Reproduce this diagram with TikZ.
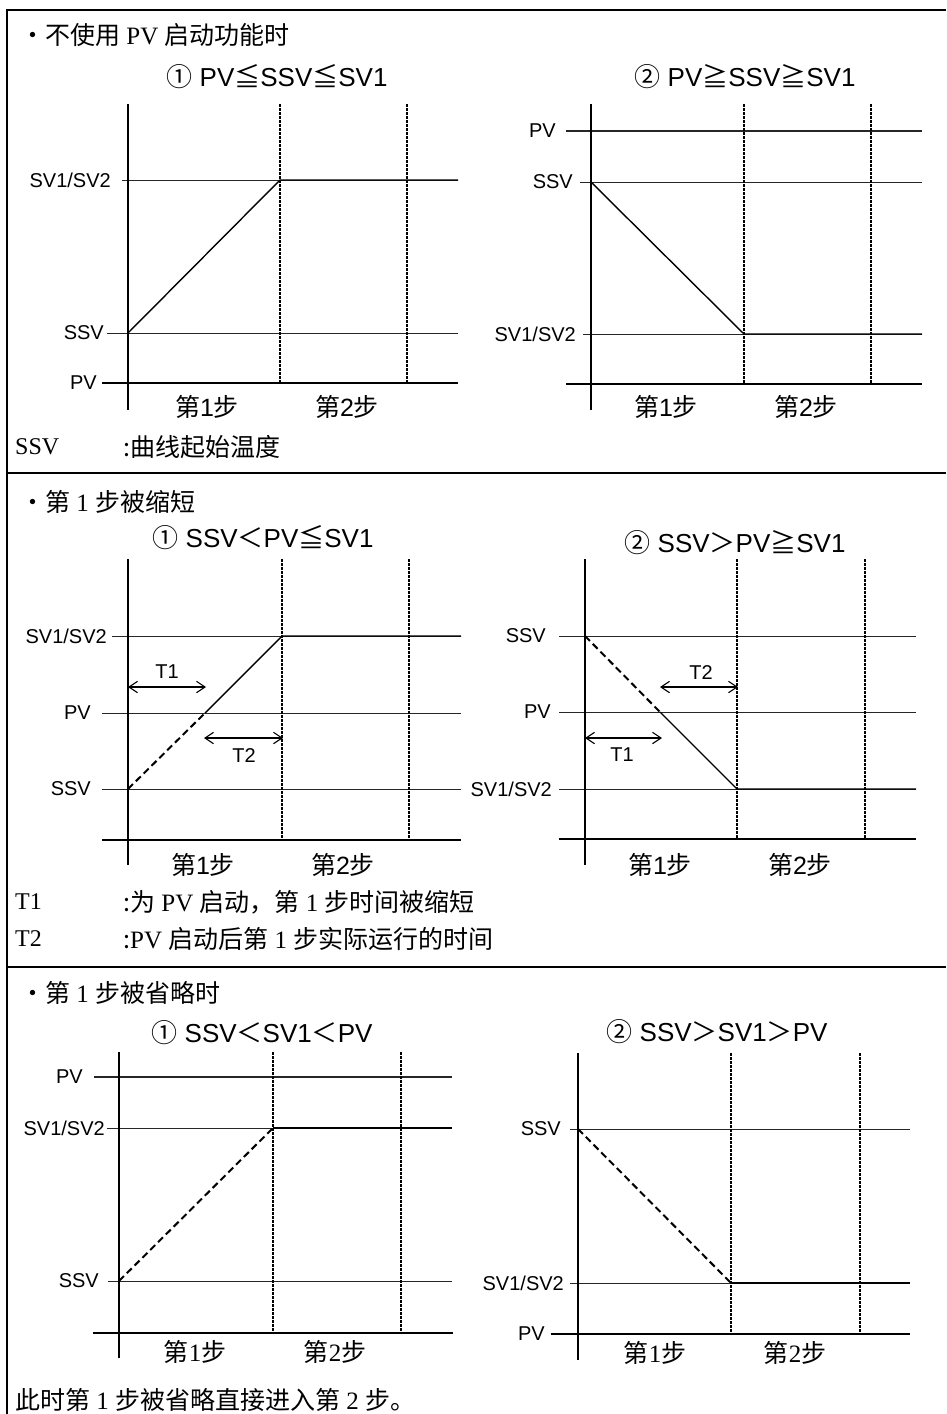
\documentclass[tikz,border=0pt]{standalone}
\usepackage{fontspec}
\setmainfont{Liberation Serif}
\setsansfont{Liberation Sans}
\newfontfamily\cjk{Noto Sans CJK SC}
\usetikzlibrary{arrows.meta}

\newcommand{\stepA}[1]{{\cjk 第}\textsf{#1}{\cjk 步}}
\newcommand{\stepB}[1]{{\cjk 第}#1{\cjk 步}}

\begin{document}
\begin{tikzpicture}[
    x=1pt, y=-1pt,
    frame/.style={line width=2.4pt},
    level/.style={line width=0.8pt, black!85},
    axis/.style={line width=1.6pt},
    stepmark/.style={line width=2.4pt, dash pattern=on 3pt off 1pt},
    prog/.style={line width=1.4pt},
    skipped/.style={line width=2pt, dash pattern=on 7pt off 4pt},
    span/.style={{Straight Barb[length=3mm,width=4mm]}-{Straight Barb[length=3mm,width=4mm]}, line width=1.1pt},
    lbl/.style={anchor=east, inner sep=0pt, font=\sffamily\fontsize{20}{20}\selectfont},
    tlbl/.style={inner sep=0pt, font=\sffamily\fontsize{20}{20}\selectfont},
    title/.style={inner sep=0pt, font=\sffamily\fontsize{26}{26}\selectfont},
    head/.style={anchor=west, inner sep=0pt, font=\fontsize{25}{25}\selectfont},
    note/.style={anchor=west, inner sep=0pt, font=\fontsize{24}{24}\selectfont},
    steplbl/.style={inner sep=0pt, font=\fontsize{25}{25}\selectfont}
]
\useasboundingbox (0,0) rectangle (946,1414);

% frame and separators
\draw[frame] (7,1414) -- (7,10) -- (946,10);
\draw[frame] (7,473) -- (946,473);
\draw[frame] (7,967) -- (946,967);

% ---------- without PV start ----------
\node[head] (h1) at (20,35) {{\cjk ・不使用} PV {\cjk 启动功能时}};

% case 1
\node[title] (t1) at (277,77) {{\cjk ①} PV{\cjk ≦}SSV{\cjk ≦}SV1};
\draw[level] (107,333) -- (458,333);
\draw[level] (122,180) -- (458,180);
\draw[axis] (102,383) -- (458,383);
\draw[axis] (128,104) -- (128,410);
\draw[stepmark] (280,104) -- (280,383);
\draw[stepmark] (407,104) -- (407,383);
\coordinate (a1) at (128,333);
\coordinate (a2) at (280,180);
\coordinate (a3) at (458,180);
\draw[prog] (a1) -- (a2) -- (a3);
\node[lbl] (a-pv) at (97,383) {PV};
\node[lbl] (a-ssv) at (104,333) {SSV};
\node[lbl] (a-sv) at (111,180) {SV1/SV2};
\node[steplbl] (a-s1) at (207,407) {\stepA{1}};
\node[steplbl] (a-s2) at (347,407) {\stepA{2}};

% case 2
\node[title] (t2) at (745,77) {{\cjk ②} PV{\cjk ≧}SSV{\cjk ≧}SV1};
\draw[level, line width=1.2pt] (566,131) -- (922,131);
\draw[level] (580,182) -- (922,182);
\draw[level] (583,334) -- (922,334);
\draw[axis] (566,384) -- (922,384);
\draw[axis] (591,104) -- (591,410);
\draw[stepmark] (744,104) -- (744,384);
\draw[stepmark] (871,104) -- (871,384);
\coordinate (b1) at (591,182);
\coordinate (b2) at (744,334);
\coordinate (b3) at (922,334);
\draw[prog] (b1) -- (b2) -- (b3);
\node[lbl] (b-pv) at (556,131) {PV};
\node[lbl] (b-ssv) at (573,182) {SSV};
\node[lbl] (b-sv) at (576,334) {SV1/SV2};
\node[steplbl] (b-s1) at (666,407) {\stepA{1}};
\node[steplbl] (b-s2) at (806,407) {\stepA{2}};

\node[note] (n1) at (15,447) {SSV};
\node[head] (n1t) at (123,447) {{\cjk :曲线起始温度}};

% ---------- step 1 shortened ----------
\node[head] (h2) at (20,502) {{\cjk ・第} 1 {\cjk 步被缩短}};

% case 1
\node[title] (t3) at (263,538) {{\cjk ①} SSV{\cjk ＜}PV{\cjk ≦}SV1};
\draw[level] (112,636) -- (461,636);
\draw[level] (102,713) -- (461,713);
\draw[level] (102,789) -- (461,789);
\draw[axis] (102,840) -- (461,840);
\draw[axis] (128,559) -- (128,865);
\draw[stepmark] (282,559) -- (282,840);
\draw[stepmark] (409,559) -- (409,840);
\coordinate (c1) at (128,789);
\coordinate (c2) at (205,713);
\coordinate (c3) at (282,636);
\coordinate (c4) at (461,636);
\draw[skipped] (c1) -- (c2);
\draw[prog] (c2) -- (c3) -- (c4);
\coordinate (c-t1a) at (128,687);
\coordinate (c-t1b) at (206,687);
\coordinate (c-t2a) at (204,738);
\coordinate (c-t2b) at (283,738);
\draw[span] (c-t1a) -- (c-t1b);
\draw[span] (c-t2a) -- (c-t2b);
\node[tlbl] (c-t1) at (167,672) {T1};
\node[tlbl] (c-t2) at (244,756) {T2};
\node[lbl] (c-sv) at (107,636) {SV1/SV2};
\node[lbl] (c-pv) at (91,713) {PV};
\node[lbl] (c-ssv) at (91,789) {SSV};
\node[steplbl] (c-s1) at (203,865) {\stepA{1}};
\node[steplbl] (c-s2) at (343,865) {\stepA{2}};

% case 2
\node[title] (t4) at (735,543) {{\cjk ②} SSV{\cjk ＞}PV{\cjk ≧}SV1};
\draw[level] (559,636) -- (916,636);
\draw[level] (559,712) -- (916,712);
\draw[level] (559,789) -- (916,789);
\draw[axis] (559,839) -- (916,839);
\draw[axis] (585,559) -- (585,865);
\draw[stepmark] (737,559) -- (737,839);
\draw[stepmark] (865,559) -- (865,839);
\coordinate (d1) at (585,636);
\coordinate (d2) at (660,712);
\coordinate (d3) at (737,789);
\coordinate (d4) at (916,789);
\draw[skipped] (d1) -- (d2);
\draw[prog] (d2) -- (d3) -- (d4);
\coordinate (d-t2a) at (660,687);
\coordinate (d-t2b) at (738,687);
\coordinate (d-t1a) at (585,738);
\coordinate (d-t1b) at (662,738);
\draw[span] (d-t2a) -- (d-t2b);
\draw[span] (d-t1a) -- (d-t1b);
\node[tlbl] (d-t2) at (701,673) {T2};
\node[tlbl] (d-t1) at (622,755) {T1};
\node[lbl] (d-ssv) at (546,636) {SSV};
\node[lbl] (d-pv) at (551,712) {PV};
\node[lbl] (d-sv) at (552,789) {SV1/SV2};
\node[steplbl] (d-s1) at (660,865) {\stepA{1}};
\node[steplbl] (d-s2) at (800,865) {\stepA{2}};

\node[note] (n2) at (15,902) {T1};
\node[head] (n2t) at (123,902) {{\cjk :为} PV {\cjk 启动，第} 1 {\cjk 步时间被缩短}};
\node[note] (n3) at (15,939) {T2};
\node[head] (n3t) at (123,939) {{\cjk :}PV {\cjk 启动后第} 1 {\cjk 步实际运行的时间}};

% ---------- step 1 skipped ----------
\node[head] (h3) at (20,993) {{\cjk ・第} 1 {\cjk 步被省略时}};

% case 1
\node[title] (t5) at (262,1033) {{\cjk ①} SSV{\cjk ＜}SV1{\cjk ＜}PV};
\draw[level, line width=1.2pt] (94,1077) -- (452,1077);
\draw[level] (107,1128) -- (452,1128);
\draw[level] (108,1281) -- (452,1281);
\draw[axis] (93,1333) -- (453,1333);
\draw[axis] (119,1052) -- (119,1358);
\draw[stepmark] (273,1052) -- (273,1333);
\draw[stepmark] (401,1052) -- (401,1333);
\coordinate (e1) at (119,1281);
\coordinate (e2) at (273,1128);
\coordinate (e3) at (452,1128);
\draw[skipped] (e1) -- (e2);
\draw[prog] (e2) -- (e3);
\node[lbl] (e-pv) at (83,1077) {PV};
\node[lbl] (e-sv) at (105,1128) {SV1/SV2};
\node[lbl] (e-ssv) at (99,1281) {SSV};
\node[steplbl] (e-s1) at (195,1352) {\stepB{1}};
\node[steplbl] (e-s2) at (335,1352) {\stepB{2}};

% case 2
\node[title] (t6) at (717,1032) {{\cjk ②} SSV{\cjk ＞}SV1{\cjk ＞}PV};
\draw[level] (570,1129) -- (910,1129);
\draw[level] (570,1283) -- (910,1283);
\draw[axis] (551,1334) -- (910,1334);
\draw[axis] (578,1053) -- (578,1360);
\draw[stepmark] (731,1053) -- (731,1334);
\draw[stepmark] (860,1053) -- (860,1334);
\coordinate (f1) at (578,1129);
\coordinate (f2) at (731,1283);
\coordinate (f3) at (910,1283);
\draw[skipped] (f1) -- (f2);
\draw[prog] (f2) -- (f3);
\node[lbl] (f-ssv) at (561,1129) {SSV};
\node[lbl] (f-sv) at (564,1283) {SV1/SV2};
\node[lbl] (f-pv) at (545,1334) {PV};
\node[steplbl] (f-s1) at (655,1353) {\stepB{1}};
\node[steplbl] (f-s2) at (795,1353) {\stepB{2}};

\node[head] (n4) at (15,1400) {{\cjk 此时第} 1 {\cjk 步被省略直接进入第} 2 {\cjk 步。}};
\end{tikzpicture}
\end{document}
